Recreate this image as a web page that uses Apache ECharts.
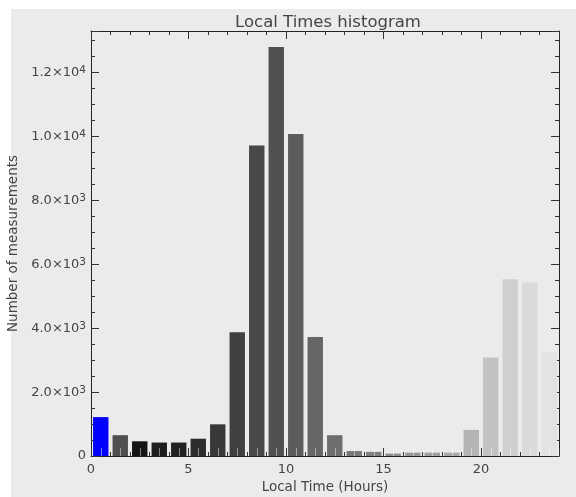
<!DOCTYPE html>
<html><head><meta charset="utf-8">
<script src="https://cdn.jsdelivr.net/npm/echarts@6/dist/echarts.min.js"></script>
<style>
html,body{margin:0;padding:0;background:#fff;}
#wrap{position:relative;width:576px;height:497px;overflow:hidden;}
#bg{position:absolute;left:11px;top:9px;right:0;bottom:0;background:#ebebeb;}
#chart{position:absolute;left:0;top:0;width:576px;height:497px;}
</style></head><body>
<div id="wrap"><div id="bg"></div><div id="chart"></div></div>
<script>
const hours = ['0','1','2','3','4','5','6','7','8','9','10','11','12','13','14','15','16','17','18','19','20','21','22','23'];
const counts = [1215, 650, 460, 420, 420, 540, 990, 3870, 9700, 12780, 10060, 3720, 650, 155, 130, 75, 105, 105, 105, 815, 3080, 5520, 5420, 3240];
const barColors = ['#0000ff','#505050','#151515','#1e1e1e','#222222','#2d2d2d','#383838','#404040','#484848','#515151','#5c5c5c','#666666','#6e6e6e','#787878','#808080','#8c8c8c','#989898','#a0a0a0','#a8a8a8','#b4b4b4','#c2c2c2','#cfcfcf','#dadada','#e3e3e3'];
const xTickLabels = ['0','5','10','15','20'];
const yTickMantissa = ['0','2.0','4.0','6.0','8.0','1.0','1.2'];
const yTickExponent = ['','3','3','3','3','4','4'];

const FONT = 'DejaVu Sans';
const TXT = '#444';
const LINE = '#222';

const chart = echarts.init(document.getElementById('chart'), null, {renderer:'canvas'});

function valueX(pos, extra) {
  return Object.assign({
    type: 'value', min: 0, max: 24, interval: 5, position: pos,
    splitLine: {show: false},
    axisLine: {show: true, onZero: false, lineStyle: {color: LINE, width: 1}},
    axisTick: {show: true, inside: true, length: 8, lineStyle: {color: '#333'}},
    minorTick: {show: true, splitNumber: 5, length: 4, lineStyle: {color: '#333'}},
    axisLabel: {show: false}
  }, extra || {});
}
function valueY(pos, extra) {
  return Object.assign({
    type: 'value', min: 0, max: 13280, interval: 2000, position: pos,
    splitLine: {show: false},
    axisLine: {show: true, onZero: false, lineStyle: {color: LINE, width: 1}},
    axisTick: {show: true, inside: true, length: 8, lineStyle: {color: '#333'}},
    minorTick: {show: true, splitNumber: 4, length: 4, lineStyle: {color: '#333'}},
    axisLabel: {show: false}
  }, extra || {});
}

const option = {
  animation: false,
  backgroundColor: 'transparent',
  title: {
    text: 'Local Times histogram',
    left: 323, top: 9, textAlign: 'center',
    textStyle: {fontFamily: FONT, fontSize: 16.5, fontWeight: 'normal', color: TXT}
  },
  grid: {left: 91, right: 17, top: 31, bottom: 41, outerBoundsMode: 'none', containLabel: false},
  xAxis: [
    {type: 'category', data: hours, show: false, boundaryGap: true},
    valueX('bottom', {
      name: 'Local Time (Hours)', nameLocation: 'middle', nameGap: 21,
      nameTextStyle: {fontFamily: FONT, fontSize: 13.5, color: TXT},
      axisLabel: {show: true, showMaxLabel: false, margin: 7,
        fontFamily: FONT, fontSize: 13, color: TXT,
        formatter: v => xTickLabels[Math.round(v / 5)] || ''}
    }),
    valueX('top'),
    {
      type: 'value', min: 0, max: 24, position: 'bottom', z: 5,
      splitLine: {show: false}, axisLine: {show: false, onZero: false},
      axisLabel: {show: false},
      axisTick: {show: true, inside: true, length: 8,
        customValues: hours.map((h, i) => i + 0.5),
        lineStyle: {color: 'rgba(255,255,255,0.45)', width: 1}}
    }
  ],
  yAxis: [
    valueY('left', {
      name: 'Number of measurements', nameLocation: 'middle', nameGap: 67,
      nameTextStyle: {fontFamily: FONT, fontSize: 13.5, color: TXT},
      axisLabel: {show: true, showMaxLabel: false, margin: 5,
        fontFamily: FONT, fontSize: 13, color: TXT,
        formatter: v => {
          const i = Math.round(v / 2000);
          if (!yTickExponent[i]) return yTickMantissa[i];
          return '{a|' + yTickMantissa[i] + '×10}{s|' + yTickExponent[i] + '}';
        },
        rich: {
          a: {fontFamily: FONT, fontSize: 13, color: TXT, lineHeight: 14, padding: [5, 0, 0, 0], verticalAlign: 'bottom'},
          s: {fontFamily: FONT, fontSize: 10.5, color: TXT, lineHeight: 10, verticalAlign: 'top'}
        }
      }
    }),
    valueY('right')
  ],
  series: [{
    type: 'bar', xAxisIndex: 0, yAxisIndex: 0, silent: true,
    barCategoryGap: '21%',
    data: counts.map((v, i) => ({value: v, itemStyle: {color: barColors[i]}}))
  }]
};
chart.setOption(option);
</script>
</body></html>
